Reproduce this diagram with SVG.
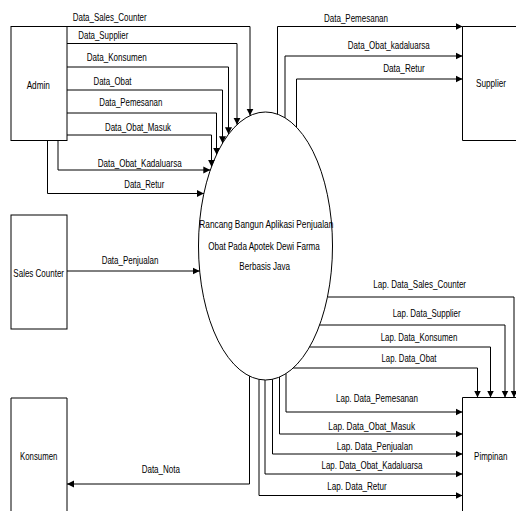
<svg xmlns="http://www.w3.org/2000/svg" width="516" height="511" viewBox="0 0 516 511">
<style>
text{font-family:"Liberation Sans",Arial,sans-serif;font-size:11px;fill:#000;text-anchor:middle}
.box{fill:#fff;stroke:#000;stroke-width:1}
.proc{fill:#fff;stroke:#000;stroke-width:1}
.flow{fill:none;stroke:#000;stroke-width:1;marker-end:url(#arr)}
</style>
<defs>
<marker id="arr" markerUnits="userSpaceOnUse" markerWidth="8" markerHeight="8" refX="7" refY="4" orient="auto">
<path d="M0,0.5 L7,4 L0,7.5 z" fill="#000"/>
</marker>
</defs>
<rect width="516" height="511" fill="#fff"/>
<g id="admin"><rect class="box" x="11" y="26.5" width="56" height="114"/><text x="38.3" y="89" textLength="23.3" lengthAdjust="spacingAndGlyphs">Admin</text></g>
<g id="sales-counter"><rect class="box" x="11" y="215" width="56" height="114"/><text x="38.7" y="276.5" textLength="50.7" lengthAdjust="spacingAndGlyphs">Sales Counter</text></g>
<g id="konsumen"><path class="box" d="M11,511 V398 H67 V511"/><text x="38.7" y="460" textLength="37.3" lengthAdjust="spacingAndGlyphs">Konsumen</text></g>
<g id="supplier"><path class="box" d="M516,26.5 H462.5 V140.5 H516"/><text x="491" y="87" textLength="30" lengthAdjust="spacingAndGlyphs">Supplier</text></g>
<g id="pimpinan"><path class="box" d="M516,397.5 H462.5 V511"/><text x="490.7" y="460" textLength="33.3" lengthAdjust="spacingAndGlyphs">Pimpinan</text></g>
<g id="process"><ellipse class="proc" cx="265.5" cy="246" rx="67" ry="134"/>
<text x="266.3" y="228" textLength="134" lengthAdjust="spacingAndGlyphs">Rancang Bangun Aplikasi Penjualan</text>
<text x="264" y="249.7" textLength="111.7" lengthAdjust="spacingAndGlyphs">Obat Pada Apotek Dewi Farma</text>
<text x="264.7" y="269.7" textLength="50.7" lengthAdjust="spacingAndGlyphs">Berbasis Java</text></g>
<g id="connectors">
<path class="flow" d="M67,26.5 H250 V115.6"/>
<path class="flow" d="M67,43.5 H237 V124.7"/>
<path class="flow" d="M67,67 H228.5 V134.3"/>
<path class="flow" d="M67,90 H222.5 V143.2"/>
<path class="flow" d="M67,113 H216.5 V154.6"/>
<path class="flow" d="M67,135 H211.5 V166.7"/>
<path class="flow" d="M58,140.5 V170 H210.3"/>
<path class="flow" d="M47.5,140.5 V193.5 H203.9"/>
<path class="flow" d="M277.5,114.2 V26.5 H462.5"/>
<path class="flow" d="M285,117.8 V56 H462.5"/>
<path class="flow" d="M296.5,127.2 V79 H462.5"/>
<path class="flow" d="M67,271 H199.7"/>
<path class="flow" d="M327.5,297 H514 V397.5"/>
<path class="flow" d="M319.6,325 H505 V397.5"/>
<path class="flow" d="M309.5,347 H490.5 V397.5"/>
<path class="flow" d="M293.2,368 H477.5 V397.5"/>
<path class="flow" d="M286,373.6 V412 H462.5"/>
<path class="flow" d="M279.5,377 V434 H462.5"/>
<path class="flow" d="M272.5,379.3 V454 H462.5"/>
<path class="flow" d="M265,380 V474 H462.5"/>
<path class="flow" d="M259,379.4 V495.5 H462.5"/>
<path class="flow" d="M249.5,376.1 V484 H67"/>
<text x="109.7" y="20.7" textLength="74" lengthAdjust="spacingAndGlyphs">Data_Sales_Counter</text>
<text x="103.3" y="38.5" textLength="50" lengthAdjust="spacingAndGlyphs">Data_Supplier</text>
<text x="116.7" y="61" textLength="60" lengthAdjust="spacingAndGlyphs">Data_Konsumen</text>
<text x="112.5" y="85" textLength="38" lengthAdjust="spacingAndGlyphs">Data_Obat</text>
<text x="130.8" y="106" textLength="63" lengthAdjust="spacingAndGlyphs">Data_Pemesanan</text>
<text x="138" y="131" textLength="66" lengthAdjust="spacingAndGlyphs">Data_Obat_Masuk</text>
<text x="139.7" y="166.5" textLength="84" lengthAdjust="spacingAndGlyphs">Data_Obat_Kadaluarsa</text>
<text x="144.3" y="188.3" textLength="40" lengthAdjust="spacingAndGlyphs">Data_Retur</text>
<text x="356" y="21.7" textLength="64" lengthAdjust="spacingAndGlyphs">Data_Pemesanan</text>
<text x="388.8" y="48.7" textLength="82" lengthAdjust="spacingAndGlyphs">Data_Obat_kadaluarsa</text>
<text x="404" y="71.7" textLength="41.7" lengthAdjust="spacingAndGlyphs">Data_Retur</text>
<text x="130" y="264" textLength="56.7" lengthAdjust="spacingAndGlyphs">Data_Penjualan</text>
<text x="419.7" y="288" textLength="92.7" lengthAdjust="spacingAndGlyphs">Lap. Data_Sales_Counter</text>
<text x="426.7" y="316.5" textLength="68" lengthAdjust="spacingAndGlyphs">Lap. Data_Supplier</text>
<text x="419" y="340.7" textLength="76.7" lengthAdjust="spacingAndGlyphs">Lap. Data_Konsumen</text>
<text x="409" y="362.3" textLength="55" lengthAdjust="spacingAndGlyphs">Lap. Data_Obat</text>
<text x="377" y="402" textLength="82" lengthAdjust="spacingAndGlyphs">Lap. Data_Pemesanan</text>
<text x="371.7" y="430" textLength="86.7" lengthAdjust="spacingAndGlyphs">Lap. Data_Obat_Masuk</text>
<text x="374.7" y="449.5" textLength="76" lengthAdjust="spacingAndGlyphs">Lap. Data_Penjualan</text>
<text x="372" y="469" textLength="101" lengthAdjust="spacingAndGlyphs">Lap. Data_Obat_Kadaluarsa</text>
<text x="357" y="490" textLength="59.3" lengthAdjust="spacingAndGlyphs">Lap. Data_Retur</text>
<text x="160.8" y="473.3" textLength="38.3" lengthAdjust="spacingAndGlyphs">Data_Nota</text>
</g>
</svg>
